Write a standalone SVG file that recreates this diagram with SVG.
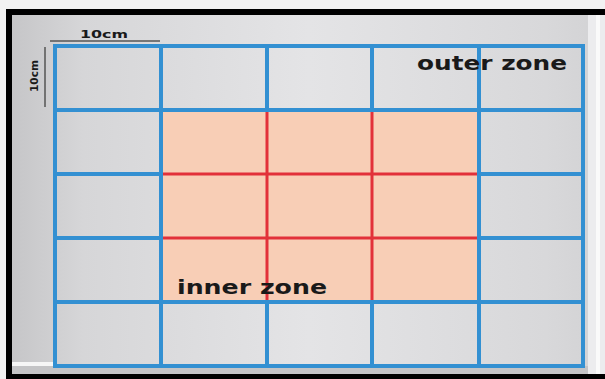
<svg xmlns="http://www.w3.org/2000/svg" width="605" height="379" viewBox="0 0 605 379">
<defs>
<linearGradient id="bg" x1="0" y1="0" x2="1" y2="0">
<stop offset="0" stop-color="#c6c6c8"/>
<stop offset="0.12" stop-color="#d6d6d8"/>
<stop offset="0.5" stop-color="#e4e4e6"/>
<stop offset="0.9" stop-color="#d8d8da"/>
<stop offset="1" stop-color="#d2d2d4"/>
</linearGradient>
<style>
.blue{stroke:#3390d2;stroke-width:4;fill:none}
.red{stroke:#e2313a;stroke-width:3;fill:none}
.lbl{font-family:"DejaVu Sans",Verdana,sans-serif;font-weight:bold;fill:#1a1a1a}
.dim{stroke:#555;stroke-width:1.5}
</style>
</defs>
<rect x="0" y="0" width="605" height="379" fill="#f2f2f2"/>
<rect x="12" y="15" width="593" height="359" fill="url(#bg)"/>
<rect x="588" y="15" width="17" height="359" fill="#ececee"/>
<rect x="596" y="15" width="4" height="359" fill="#fafafa"/>
<rect x="12" y="366" width="576" height="8" fill="#c4c4c6"/>
<rect x="12" y="362" width="41" height="4" fill="#f6f6f6"/>
<!-- frame -->
<rect x="6" y="9" width="599" height="6" fill="#000"/>
<rect x="6" y="9" width="6" height="370" fill="#000"/>
<rect x="6" y="374" width="599" height="5" fill="#000"/>
<g id="inner-zone">
<rect x="161" y="110" width="318" height="192" fill="#f8ceb6"/>
<g class="red">
<line x1="267" y1="110" x2="267" y2="302"/>
<line x1="372" y1="110" x2="372" y2="302"/>
<line x1="161" y1="174" x2="479" y2="174"/>
<line x1="161" y1="238" x2="479" y2="238"/>
</g>
</g>
<g id="outer-grid" class="blue">
<line x1="55" y1="44" x2="55" y2="368"/>
<line x1="161" y1="44" x2="161" y2="368"/>
<line x1="267" y1="44" x2="267" y2="110"/>
<line x1="267" y1="302" x2="267" y2="368"/>
<line x1="372" y1="44" x2="372" y2="110"/>
<line x1="372" y1="302" x2="372" y2="368"/>
<line x1="479" y1="44" x2="479" y2="368"/>
<line x1="583" y1="44" x2="583" y2="368"/>
<line x1="53" y1="46" x2="585" y2="46"/>
<line x1="53" y1="110" x2="585" y2="110"/>
<line x1="53" y1="174" x2="161" y2="174"/>
<line x1="479" y1="174" x2="585" y2="174"/>
<line x1="53" y1="238" x2="161" y2="238"/>
<line x1="479" y1="238" x2="585" y2="238"/>
<line x1="53" y1="302" x2="585" y2="302"/>
<line x1="53" y1="366" x2="585" y2="366"/>
</g>
<g id="scale">
<line class="dim" x1="50" y1="41" x2="160" y2="41"/>
<line class="dim" x1="45" y1="47" x2="45" y2="107"/>
<text class="lbl" x="80" y="37.5" font-size="10" textLength="48" lengthAdjust="spacingAndGlyphs">10cm</text>
<text class="lbl" font-size="10" transform="translate(37.5,92) rotate(-90)" textLength="32" lengthAdjust="spacingAndGlyphs">10cm</text>
</g>
<g id="labels">
<text class="lbl" x="417" y="70" font-size="19" textLength="150" lengthAdjust="spacingAndGlyphs">outer zone</text>
<text class="lbl" x="177" y="293.5" font-size="19" textLength="150" lengthAdjust="spacingAndGlyphs">inner zone</text>
</g>
</svg>
